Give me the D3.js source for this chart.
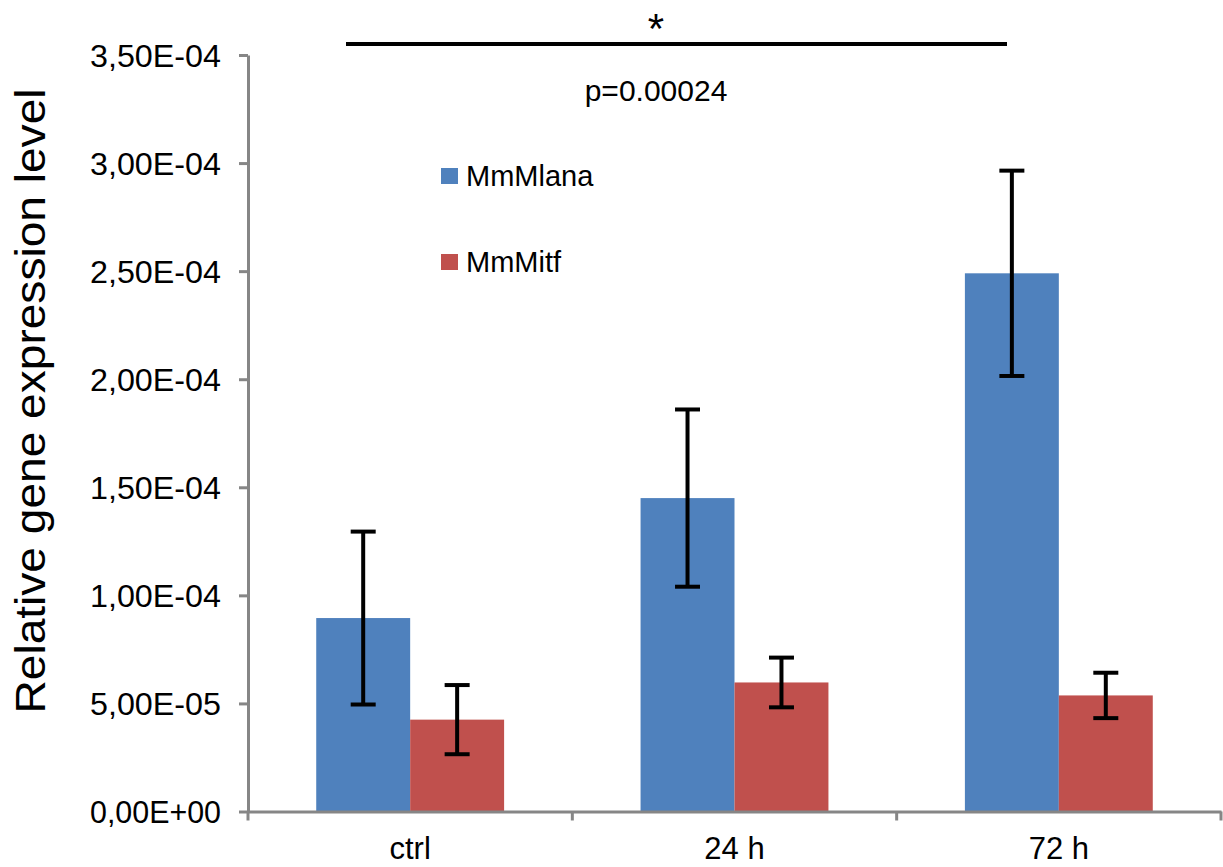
<!DOCTYPE html>
<html>
<head>
<meta charset="utf-8">
<script src="https://cdn.jsdelivr.net/npm/d3@7"></script>
<style>
  html, body { margin: 0; padding: 0; background: #fff; }
  svg { display: block; }
  text { font-family: "Liberation Sans", Arial, sans-serif; fill: #000; }
</style>
</head>
<body>
<div id="chart"></div>
<script>
const categories = ["ctrl", "24 h", "72 h"];
const seriesNames = ["MmMlana", "MmMitf"];
const mlanaValues = [8.95e-5, 1.45e-4, 2.49e-4];
const mlanaErrors = [4.0e-5, 4.1e-5, 4.75e-5];
const mitfValues = [4.25e-5, 5.97e-5, 5.37e-5];
const mitfErrors = [1.6e-5, 1.15e-5, 1.05e-5];
const tickValues = [0, 5e-5, 1e-4, 1.5e-4, 2e-4, 2.5e-4, 3e-4, 3.5e-4];
const tickLabels = ["0,00E+00", "5,00E-05", "1,00E-04", "1,50E-04", "2,00E-04", "2,50E-04", "3,00E-04", "3,50E-04"];
const yTitle = "Relative gene expression level";
const sigStar = "*";
const sigText = "p=0.00024";

const colors = ["#4F81BD", "#C0504D"];
const axisColor = "#868686";

const W = 1223, H = 867;
const plot = { left: 248, right: 1221, top: 55, bottom: 811.5 };

const svg = d3.select("#chart").append("svg").attr("width", W).attr("height", H);

const x = d3.scaleBand().domain(categories).range([plot.left, plot.right]).paddingInner(0).paddingOuter(0);
const xSub = d3.scaleBand().domain(seriesNames).range([0, x.bandwidth()]).paddingInner(0).paddingOuter(0.7263);
const y = d3.scaleLinear().domain([0, 3.5e-4]).range([plot.bottom, plot.top]);

const series = [
  { name: seriesNames[0], values: mlanaValues, errors: mlanaErrors, color: colors[0] },
  { name: seriesNames[1], values: mitfValues, errors: mitfErrors, color: colors[1] }
];

// Bars
series.forEach(s => {
  svg.append("g").selectAll("rect").data(categories).join("rect")
    .attr("x", c => x(c) + xSub(s.name))
    .attr("width", xSub.bandwidth())
    .attr("y", (c, i) => y(s.values[i]))
    .attr("height", (c, i) => y(0) - y(s.values[i]))
    .attr("fill", s.color);
});

// Error bars
series.forEach(s => {
  const g = svg.append("g").attr("stroke", "#000").attr("stroke-width", 4);
  categories.forEach((c, i) => {
    const cx = x(c) + xSub(s.name) + xSub.bandwidth() / 2;
    const hi = y(s.values[i] + s.errors[i]);
    const lo = y(s.values[i] - s.errors[i]);
    g.append("line").attr("x1", cx).attr("x2", cx).attr("y1", hi).attr("y2", lo);
    g.append("line").attr("x1", cx - 12.5).attr("x2", cx + 12.5).attr("y1", hi).attr("y2", hi);
    g.append("line").attr("x1", cx - 12.5).attr("x2", cx + 12.5).attr("y1", lo).attr("y2", lo);
  });
});

// Y axis
const yAxis = d3.axisLeft(y).tickValues(tickValues).tickSizeInner(9).tickSizeOuter(0)
  .tickFormat((d, i) => tickLabels[i]);
const gy = svg.append("g").attr("transform", `translate(${plot.left},0)`).call(yAxis);
gy.select(".domain").attr("stroke", axisColor).attr("stroke-width", 3);
gy.selectAll(".tick line").attr("stroke", axisColor).attr("stroke-width", 3);
gy.selectAll(".tick text").attr("x", -27).attr("dy", "0.36em")
  .attr("textLength", 131).attr("lengthAdjust", "spacingAndGlyphs")
  .style("font-size", "31px").style("font-family", "'Liberation Sans', Arial, sans-serif").attr("fill", "#000");

// X axis
const xAxis = d3.axisBottom(x).tickSize(0).tickSizeOuter(0);
const gx = svg.append("g").attr("transform", `translate(0,${plot.bottom})`).call(xAxis);
gx.select(".domain").attr("stroke", axisColor).attr("stroke-width", 3);
gx.selectAll(".tick text").attr("y", 0).attr("dy", "47px")
  .style("font-size", "31px").style("font-family", "'Liberation Sans', Arial, sans-serif").attr("fill", "#000");
// category boundary ticks
const bounds = categories.map(c => x(c)).concat([x(categories[categories.length - 1]) + x.bandwidth()]);
svg.append("g").selectAll("line").data(bounds).join("line")
  .attr("x1", d => d).attr("x2", d => d)
  .attr("y1", plot.bottom).attr("y2", plot.bottom + 9)
  .attr("stroke", axisColor).attr("stroke-width", 3);

// Y title
svg.append("text")
  .attr("transform", `translate(45,401) rotate(-90)`)
  .attr("text-anchor", "middle")
  .attr("textLength", 625).attr("lengthAdjust", "spacingAndGlyphs")
  .style("font-size", "43px")
  .text(yTitle);

// Legend
const legend = svg.append("g");
series.forEach((s, i) => {
  const ly = 176 + i * 86;
  legend.append("rect").attr("x", 441).attr("y", ly - 8).attr("width", 17).attr("height", 16).attr("fill", s.color);
  legend.append("text").attr("x", 466).attr("y", ly).attr("dy", "0.36em")
    .style("font-size", "29px").text(s.name);
});

// Significance
svg.append("line").attr("x1", 346).attr("x2", 1007).attr("y1", 44).attr("y2", 44)
  .attr("stroke", "#000").attr("stroke-width", 4);
svg.append("text").attr("x", 656).attr("y", 43).attr("text-anchor", "middle")
  .style("font-size", "42px").text(sigStar);
svg.append("text").attr("x", 656).attr("y", 101).attr("text-anchor", "middle")
  .style("font-size", "30px").text(sigText);
</script>
</body>
</html>
